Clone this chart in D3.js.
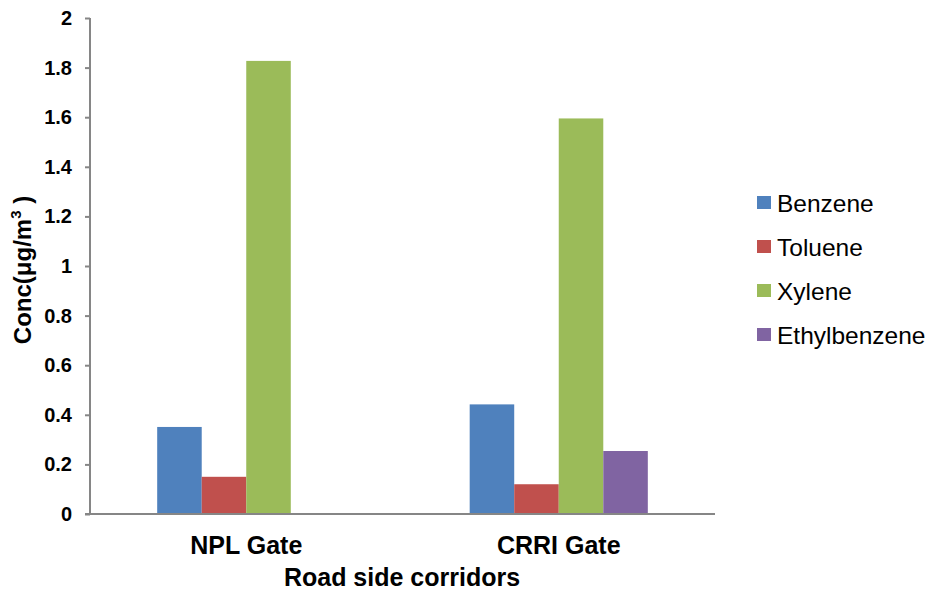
<!DOCTYPE html>
<html>
<head>
<meta charset="utf-8">
<script src="https://cdn.jsdelivr.net/npm/d3@7"></script>
<style>
  html, body { margin: 0; padding: 0; background: #fff; }
  svg { display: block; font-family: Arial, "Liberation Sans", sans-serif; }
</style>
</head>
<body>
<svg id="chart" width="932" height="592"></svg>
<script>
const categories = ["NPL Gate", "CRRI Gate"];
const seriesNames = ["Benzene", "Toluene", "Xylene", "Ethylbenzene"];
const benzene = [0.351, 0.442];
const toluene = [0.150, 0.120];
const xylene = [1.827, 1.595];
const ethylbenzene = [0, 0.254];
const yTicks = [0, 0.2, 0.4, 0.6, 0.8, 1, 1.2, 1.4, 1.6, 1.8, 2];
const colors = ["#4F81BD", "#C0504D", "#9BBB59", "#8064A2"];
const seriesValues = [benzene, toluene, xylene, ethylbenzene];

const svg = d3.select("#chart");
const mLeft = 90, mRight = 715, mTop = 18, mBottom = 514;

const y = d3.scaleLinear().domain([0, 2]).range([mBottom, mTop]);
const x0 = d3.scaleBand().domain(categories).range([mLeft, mRight])
  .paddingInner(0.43).paddingOuter(0.215);
const x1 = d3.scaleBand().domain(seriesNames).range([0, x0.bandwidth()]);

const axisColor = "#868686";

// bars
const groups = svg.append("g").selectAll("g")
  .data(categories).join("g")
  .attr("transform", d => `translate(${x0(d)},0)`);
groups.selectAll("rect")
  .data((c, ci) => seriesNames.map((s, si) => ({s, v: seriesValues[si][ci], color: colors[si]})))
  .join("rect")
  .attr("x", d => x1(d.s))
  .attr("width", x1.bandwidth())
  .attr("y", d => y(d.v))
  .attr("height", d => mBottom - y(d.v))
  .attr("fill", d => d.color);

// y axis
const yAxis = d3.axisLeft(y).tickValues(yTicks).tickSize(5).tickPadding(13)
  .tickFormat(d => String(+d.toFixed(1)));
const gy = svg.append("g").attr("transform", `translate(${mLeft},0)`).call(yAxis);
gy.select(".domain").attr("stroke", axisColor).attr("stroke-width", 2).attr("d", `M0,${mTop}V${mBottom}`);
gy.selectAll(".tick line").attr("stroke", axisColor).attr("stroke-width", 2);
gy.selectAll(".tick text").attr("font-size", 20).attr("font-weight", "bold")
  .attr("fill", "#000").attr("font-family", "Arial, 'Liberation Sans', sans-serif");

// x axis
const xAxis = d3.axisBottom(x0).tickSize(0).tickPadding(0);
const gx = svg.append("g").attr("transform", `translate(0,${mBottom})`).call(xAxis);
gx.select(".domain").attr("stroke", axisColor).attr("stroke-width", 2).attr("d", `M${mLeft - 5},0H${mRight}`);
gx.selectAll(".tick text").attr("font-size", 25).attr("font-weight", "bold")
  .attr("fill", "#000").attr("dy", null).attr("y", 40)
  .attr("font-family", "Arial, 'Liberation Sans', sans-serif");

// axis titles
svg.append("text")
  .attr("x", (mLeft + mRight) / 2 - 0.5).attr("y", 586)
  .attr("text-anchor", "middle").attr("font-size", 25).attr("font-weight", "bold")
  .text("Road side corridors");

const yt = svg.append("text")
  .attr("transform", `translate(31,${(mTop + mBottom) / 2 + 4}) rotate(-90)`)
  .attr("text-anchor", "middle").attr("font-size", 24).attr("font-weight", "bold");
yt.append("tspan").text("Conc(μg/m");
yt.append("tspan").attr("font-size", 15).attr("dy", -10).text("3");
yt.append("tspan").attr("dy", 10).text(" )");

// legend
const legend = svg.append("g").selectAll("g")
  .data(seriesNames).join("g")
  .attr("transform", (d, i) => `translate(757,${202.5 + i * 44})`);
legend.append("rect").attr("x", 0).attr("y", -6.5).attr("width", 14).attr("height", 13)
  .attr("fill", (d, i) => colors[i]);
legend.append("text").attr("x", 20).attr("y", 9).attr("font-size", 24.5)
  .attr("fill", "#000").text(d => d);
</script>
</body>
</html>
